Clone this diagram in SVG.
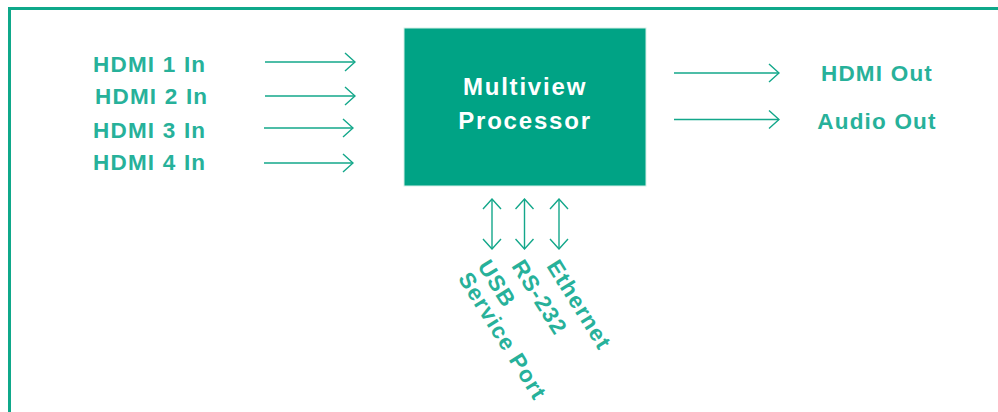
<svg xmlns="http://www.w3.org/2000/svg" width="998" height="412" viewBox="0 0 998 412">
<defs>
<style>
.lbl{font-family:"Liberation Sans",Arial,sans-serif;font-weight:bold;font-size:22.5px;letter-spacing:1.2px;fill:#27b19a}
.box-t{font-family:"Liberation Sans",Arial,sans-serif;font-weight:bold;font-size:24px;letter-spacing:1.8px;fill:#ffffff}
.ar{stroke:#13a78a;stroke-width:1.4;fill:none}
</style>
<marker id="head" viewBox="0 0 12 20" refX="11" refY="10" markerWidth="12" markerHeight="20" markerUnits="userSpaceOnUse" orient="auto-start-reverse">
<path d="M1,1 L11,10 L1,19" fill="none" stroke="#13a78a" stroke-width="1.4"/>
</marker>
</defs>
<rect width="998" height="412" fill="#ffffff"/>
<path d="M9.5,420 L9.5,8.5 L1000,8.5" fill="none" stroke="#0fa88a" stroke-width="3"/>
<g id="processor">
<rect x="404" y="28" width="242" height="158" fill="#00a385" stroke="#d5efe8" stroke-width="1"/>
<text class="box-t" x="525" y="95" text-anchor="middle">Multiview</text>
<text class="box-t" x="525" y="129" text-anchor="middle">Processor</text>
</g>
<g id="hdmi1"><text class="lbl" x="93" y="72">HDMI 1 In</text></g>
<g id="hdmi2"><text class="lbl" x="95" y="104">HDMI 2 In</text></g>
<g id="hdmi3"><text class="lbl" x="93" y="138">HDMI 3 In</text></g>
<g id="hdmi4"><text class="lbl" x="93" y="170">HDMI 4 In</text></g>
<g id="hdmiout"><text class="lbl" x="877" y="81" text-anchor="middle">HDMI Out</text></g>
<g id="audioout"><text class="lbl" x="877" y="129" text-anchor="middle">Audio Out</text></g>
<g id="usb"><text class="lbl" transform="translate(477,266) rotate(58)"><tspan x="0" y="0">USB</tspan><tspan x="0" y="23">Service Port</tspan></text></g>
<g id="rs232"><text class="lbl" transform="translate(511,266) rotate(58)">RS-232</text></g>
<g id="ethernet"><text class="lbl" transform="translate(546,266) rotate(58)">Ethernet</text></g>
<g id="connectors">
<line class="ar" x1="265" y1="62" x2="355" y2="62" marker-end="url(#head)"/>
<line class="ar" x1="265" y1="96" x2="355" y2="96" marker-end="url(#head)"/>
<line class="ar" x1="264" y1="128" x2="353" y2="128" marker-end="url(#head)"/>
<line class="ar" x1="264" y1="163" x2="353" y2="163" marker-end="url(#head)"/>
<line class="ar" x1="674" y1="73" x2="779" y2="73" marker-end="url(#head)"/>
<line class="ar" x1="674" y1="119.5" x2="779" y2="119.5" marker-end="url(#head)"/>
<line class="ar" x1="492" y1="199" x2="492" y2="249" marker-start="url(#head)" marker-end="url(#head)"/>
<line class="ar" x1="524.5" y1="199" x2="524.5" y2="249" marker-start="url(#head)" marker-end="url(#head)"/>
<line class="ar" x1="559" y1="199" x2="559" y2="249" marker-start="url(#head)" marker-end="url(#head)"/>
</g>
</svg>
